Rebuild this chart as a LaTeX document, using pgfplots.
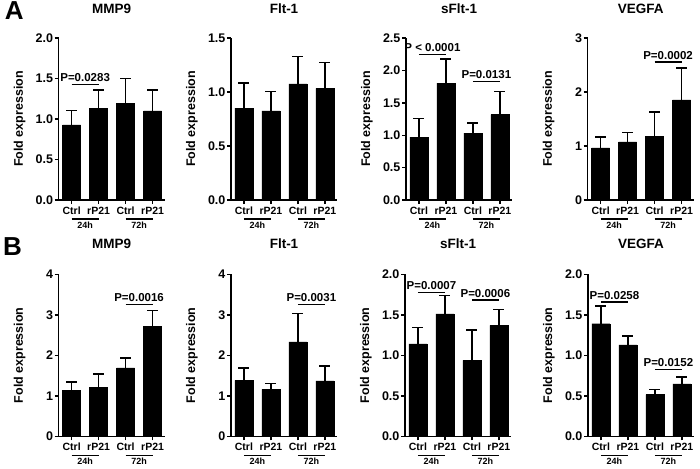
\documentclass[border=0pt]{standalone}
\usepackage{pgfplots}
\pgfplotsset{compat=1.18}
\usepackage{pgfplotstable}
\usepackage{fontspec}
\setmainfont{Liberation Sans}

\newcommand\tickfont{\bfseries\fontsize{12.5}{13}\selectfont}
\newcommand\catfont{\bfseries\fontsize{10.5}{11}\selectfont}
\newcommand\grpfont{\bfseries\fontsize{9}{10}\selectfont}
\newcommand\titfont{\bfseries\fontsize{13.5}{14}\selectfont}
\newcommand\labfont{\bfseries\fontsize{12.5}{13}\selectfont}
\newcommand\pfont{\bfseries\fontsize{11.5}{12}\selectfont}

% x  y  err
\pgfplotstableread{
x y e
0 0.927 0.175
1 1.135 0.220
2 1.190 0.310
3 1.100 0.260
}\AMMP
\pgfplotstableread{
x y e
0 0.850 0.233
1 0.826 0.179
2 1.076 0.254
3 1.033 0.241
}\AFLT
\pgfplotstableread{
x y e
0 0.969 0.286
1 1.802 0.375
2 1.031 0.156
3 1.318 0.354
}\ASFLT
\pgfplotstableread{
x y e
0 0.965 0.198
1 1.076 0.174
2 1.175 0.452
3 1.855 0.588
}\AVEG
\pgfplotstableread{
x y e
0 1.130 0.206
1 1.212 0.322
2 1.690 0.248
3 2.720 0.390
}\BMMP
\pgfplotstableread{
x y e
0 1.383 0.304
1 1.160 0.140
2 2.330 0.700
3 1.366 0.371
}\BFLT
\pgfplotstableread{
x y e
0 1.142 0.202
1 1.513 0.223
2 0.936 0.379
3 1.369 0.194
}\BSFLT
\pgfplotstableread{
x y e
0 1.390 0.218
1 1.130 0.107
2 0.515 0.062
3 0.647 0.083
}\BVEG

\pgfplotsset{
  panel/.style={
    scale only axis, width=106pt, height=162pt,
    anchor=south west, clip=false,
    axis x line*=bottom, axis y line*=left,
    axis line style={line width=1.4pt},
    every tick/.style={line width=1.4pt, black},
    tick align=outside, major tick length=4pt,
    xmin=-0.48, xmax=3.45, ymin=0,
    xtick={0,1,2,3}, xticklabels={Ctrl,rP21,Ctrl,rP21},
    xticklabel style={font=\catfont, inner ysep=2.5pt},
    yticklabel style={font=\tickfont, inner xsep=1.4pt},
    /pgf/number format/assume math mode=true,
    ylabel={Fold expression},
    ylabel style={font=\labfont, at={(axis description cs:-0.368,0.5)}, anchor=center},
    title style={font=\titfont, anchor=center},
  },
  dec/.style={yticklabel={\pgfmathprintnumber[fixed,fixed zerofill,precision=1]{\tick}}},
  int/.style={yticklabel={\pgfmathprintnumber[fixed,precision=0]{\tick}}},
  toprow/.style={title style={at={(axis description cs:0.5,1.142)}}},
  botrow/.style={title style={at={(axis description cs:0.5,1.151)}}},
}

\newcommand\bars[1]{%
  \addplot[ybar, bar width=18pt, fill=black, draw=black,
    error bars/.cd, y dir=plus, y explicit,
    error bar style={line width=1.5pt, black},
    error mark options={rotate=90, mark size=5.5pt, line width=1.5pt, black}]
    table[x=x, y=y, y error=e] {#1};
}
\newcommand\groups{%
  \draw[line width=1.1pt] ([yshift=-19pt]axis cs:0,0) -- ([yshift=-19pt]axis cs:1,0)
     node[midway, below=2.5pt, inner sep=0pt, font=\grpfont] {24h};
  \draw[line width=1.1pt] ([yshift=-19pt]axis cs:2,0) -- ([yshift=-19pt]axis cs:3,0)
     node[midway, below=2.5pt, inner sep=0pt, font=\grpfont] {72h};
}
\newcommand\pline[4]{%
  \draw[line width=1.4pt] (axis cs:#1,#3) -- (axis cs:#2,#3)
     node[midway, above=2pt, inner sep=0pt, font=\pfont] {#4};
}

\begin{document}
\begin{tikzpicture}
\path[use as bounding box] (0pt,0pt) rectangle (700pt,-468pt);

\node[font=\bfseries\fontsize{26}{26}\selectfont, inner sep=0pt] at (14.3pt,-11pt) {A};
\node[font=\bfseries\fontsize{26}{26}\selectfont, inner sep=0pt] at (12.5pt,-247pt) {B};

% ---------- Row A ----------
\begin{axis}[panel, toprow, dec, at={(58.7pt,-200pt)}, ymax=2.0, ytick={0,0.5,1,1.5,2}, title={MMP9}]
\bars{\AMMP}
\pline{0}{1}{1.424}{P=0.0283}
\groups
\end{axis}

\begin{axis}[panel, toprow, dec, at={(231pt,-200pt)}, ymax=1.5, ytick={0,0.5,1,1.5}, title={Flt-1}]
\bars{\AFLT}
\groups
\end{axis}

\begin{axis}[panel, toprow, dec, at={(406pt,-200pt)}, ymax=2.5, ytick={0,0.5,1,1.5,2,2.5}, title={sFlt-1}]
\bars{\ASFLT}
\pline{0}{1}{2.245}{P < 0.0001}
\pline{2}{3}{1.828}{P=0.0131}
\groups
\end{axis}

\begin{axis}[panel, toprow, int, at={(587.7pt,-200pt)}, ymax=3, ytick={0,1,2,3}, title={VEGFA}]
\bars{\AVEG}
\pline{2}{3}{2.554}{P=0.0002}
\groups
\end{axis}

% ---------- Row B ----------
\begin{axis}[panel, botrow, int, at={(58.7pt,-436.3pt)}, ymax=4, ytick={0,1,2,3,4}, title={MMP9}]
\bars{\BMMP}
\pline{2}{3}{3.25}{P=0.0016}
\groups
\end{axis}

\begin{axis}[panel, botrow, int, at={(231pt,-436.3pt)}, ymax=4, ytick={0,1,2,3,4}, title={Flt-1}]
\bars{\BFLT}
\pline{2}{3}{3.25}{P=0.0031}
\groups
\end{axis}

\begin{axis}[panel, botrow, dec, at={(405pt,-436.3pt)}, ymax=2.0, ytick={0,0.5,1,1.5,2}, title={sFlt-1}]
\bars{\BSFLT}
\pline{0}{1}{1.773}{P=0.0007}
\pline{2}{3}{1.682}{P=0.0006}
\groups
\end{axis}

\begin{axis}[panel, botrow, dec, at={(588pt,-436.3pt)}, ymax=2.0, ytick={0,0.5,1,1.5,2}, title={VEGFA}]
\bars{\BVEG}
\pline{0}{1}{1.658}{P=0.0258}
\pline{2}{3}{0.825}{P=0.0152}
\groups
\end{axis}
\end{tikzpicture}
\end{document}
